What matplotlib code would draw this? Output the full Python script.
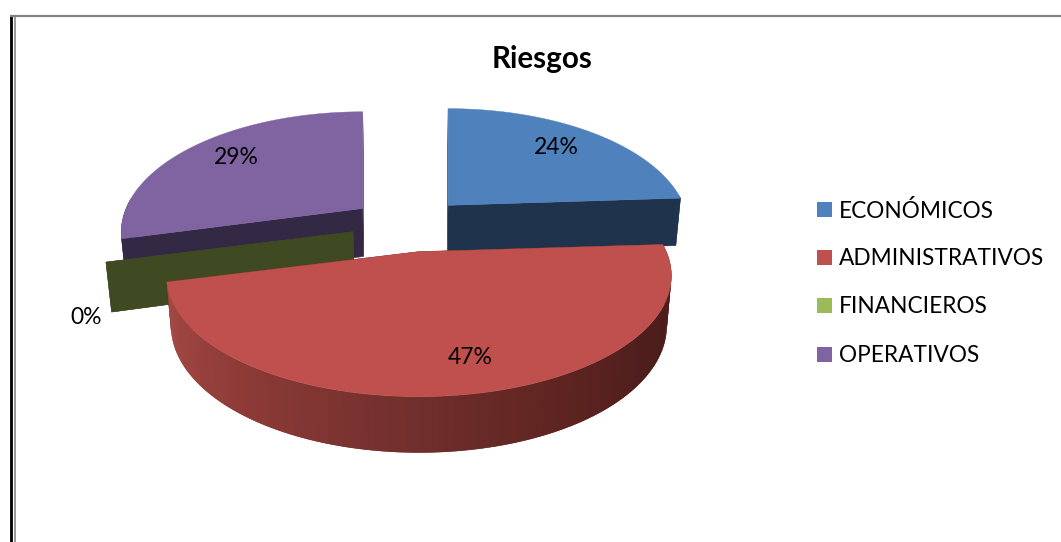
"""Exploded 3D-style pie chart of risk categories, projected by hand onto a
flat matplotlib axes measured in pixels.
"""
import matplotlib
matplotlib.use("Agg")
import matplotlib.pyplot as plt
import numpy as np
from matplotlib.patches import Polygon, Rectangle

categories = ["ECONÓMICOS", "ADMINISTRATIVOS", "FINANCIEROS", "OPERATIVOS"]
percent = [24, 47, 0, 29]
top_colors = ["#4f81bd", "#c0504d", "#9bbb59", "#8064a2"]
wall_colors = ["#1f334d", "#4e1f1c", "#3f4a22", "#332944"]
label_xy = [(556, 147), (470, 358), (86, 317), (236, 158)]

# projection settings, all in pixels
CENTER = (409, 225)
EXPLODE = (58, 27)
RX = 250
RY = 116
PERSP = 0.2
DEPTH = 48
SHRINK = 0.982
VANISH_X = 420

# red rim shading, from the right side round to the left
rim_angles = [86, 125, 155, 180, 215, 256]
rim_red = [0x4a, 0x4e, 0x60, 0x70, 0x8c, 0xa8]
rim_green = [0x1c, 0x1e, 0x25, 0x2f, 0x3a, 0x4b]
rim_blue = [0x1a, 0x1c, 0x22, 0x2c, 0x37, 0x47]


def top_point(apex, angle, r=1.0):
    """Screen position of a point on the top face, angle clockwise from north."""
    x = r * np.sin(np.radians(angle))
    y = r * np.cos(np.radians(angle))
    s = 1 / (1 + PERSP * y)
    # slices pushed towards the back come out a little narrower
    width = RX * (0.99 + (apex[1] - 252) * 0.001)
    return np.array([apex[0] + width * x * s, apex[1] - RY * y * s])


def bottom_point(apex, angle, r=1.0):
    """Same point dropped to the bottom face of the pie."""
    px, py = top_point(apex, angle, r)
    y = r * np.cos(np.radians(angle))
    return np.array([VANISH_X + (px - VANISH_X) * SHRINK, py + DEPTH - 8 * y])


def slice_apex(mid_angle):
    ay = CENTER[1] - EXPLODE[1] * np.cos(np.radians(mid_angle))
    ax_ = CENTER[0] + EXPLODE[0] * np.sin(np.radians(mid_angle))
    return (ax_ + 0.03 * (ay - CENTER[1]), ay)


def draw_side(axes, apex, angle, color):
    quad = [top_point(apex, angle, 0), top_point(apex, angle),
            bottom_point(apex, angle), bottom_point(apex, angle, 0)]
    axes.add_patch(Polygon(quad, facecolor=color, edgecolor=color, lw=0.3))


def draw_rim(axes, apex, start, end, base_color, shaded):
    """Outer wall of the slice, only where it faces the viewer."""
    stop = min(end, 275)
    angles = np.arange(max(start, 85), stop, 1.5)
    for a0 in angles:
        a1 = min(a0 + 3, stop)  # overlap the next strip so no seams show
        if shaded:
            mid = a0 + 0.75
            color = (np.interp(mid, rim_angles, rim_red) / 255,
                     np.interp(mid, rim_angles, rim_green) / 255,
                     np.interp(mid, rim_angles, rim_blue) / 255)
        else:
            color = base_color
        sweep = np.linspace(a0, a1, 4)
        quad = [top_point(apex, a) for a in sweep]
        quad += [bottom_point(apex, a) for a in sweep[::-1]]
        axes.add_patch(Polygon(quad, facecolor=color, edgecolor="none"))


def draw_slice(axes, index, start, end):
    mid = (start + end) / 2
    apex = slice_apex(mid)
    shaded = index == 1
    draw_side(axes, apex, end, "#5a4678" if index == 3 else wall_colors[index])
    draw_side(axes, apex, start, wall_colors[index])
    if end > start:
        draw_rim(axes, apex, start, end, wall_colors[index], shaded)
        arc = [top_point(apex, a) for a in np.linspace(start, end, 120)]
        face = [top_point(apex, start, 0)] + arc
        axes.add_patch(Polygon(face, facecolor=top_colors[index],
                               edgecolor=top_colors[index], lw=0.3))


fig = plt.figure(figsize=(10.61, 5.42), dpi=100, facecolor="white")
ax = fig.add_axes([0, 0, 1, 1])
ax.set_xlim(0, 1061)
ax.set_ylim(542, 0)
ax.axis("off")
plt.rcParams["font.family"] = ["Lato", "DejaVu Sans"]

# chart frame, cut off by the bottom and right of the canvas
ax.plot([11, 11], [15, 542], color="black", lw=2.0, solid_capstyle="butt")
ax.plot([15, 15], [16, 542], color="#9a9a9a", lw=1.4, solid_capstyle="butt")
ax.plot([10, 1061], [16, 16], color="#808080", lw=1.6, solid_capstyle="butt")

edges = np.cumsum([0] + percent) * 3.6
spans = list(zip(edges[:-1], edges[1:]))

# back slices first, the large front slice last
for i in [0, 3, 2, 1]:
    draw_slice(ax, i, spans[i][0], spans[i][1])

for value, (tx, ty) in zip(percent, label_xy):
    ax.text(tx, ty, f"{value}%", fontsize=16.5, color="black",
            ha="center", va="center")

ax.text(542.5, 59, "Riesgos", fontsize=21.3, fontweight="bold",
        ha="center", va="center")

legend_y = [209.5, 257.5, 305.5, 354.5]
for name, color, ly in zip(categories, top_colors, legend_y):
    ax.add_patch(Rectangle((817, ly - 7.5), 15, 15, facecolor=color, edgecolor="none"))
    ax.text(839, ly + 1, name, fontsize=16.3, ha="left", va="center")

fig.savefig("out.png", dpi=100, facecolor="white")
